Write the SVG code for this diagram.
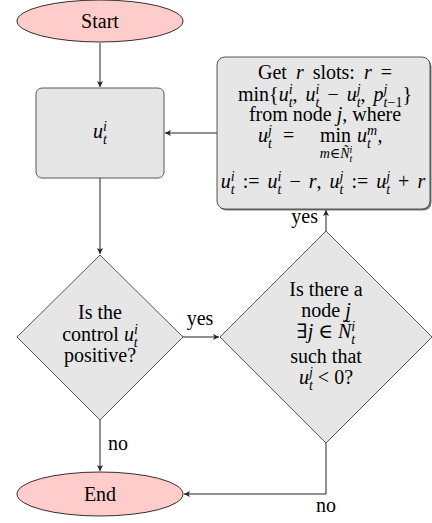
<svg xmlns="http://www.w3.org/2000/svg" width="432" height="523" viewBox="0 0 432 523">
<style>
text{font-family:"Liberation Serif","DejaVu Serif",serif;font-size:20px;fill:#000}
.m{text-anchor:middle}
.i{font-style:italic}
.s{font-size:14px}
.term{fill:#ffcccc;stroke:#000;stroke-width:0.8}
.proc{fill:#e6e6e6;stroke:#444;stroke-width:0.9}
.c{fill:none;stroke:#222;stroke-width:1}
</style>
<defs>
<marker id="ah" markerUnits="userSpaceOnUse" markerWidth="8" markerHeight="8" refX="6" refY="3" orient="auto">
<path d="M0,0 L6,3 L0,6 L1.5,3 z" fill="#222"/>
</marker>
</defs>
<g id="connectors">
<line class="c" x1="100" y1="43" x2="100" y2="87" marker-end="url(#ah)"/>
<line class="c" x1="100" y1="178" x2="100" y2="254" marker-end="url(#ah)"/>
<line class="c" x1="183" y1="337" x2="219" y2="337" marker-end="url(#ah)"/>
<text class="m" x="200" y="325">yes</text>
<line class="c" x1="326" y1="231" x2="326" y2="210" marker-end="url(#ah)"/>
<text x="318" y="223" text-anchor="end">yes</text>
<line class="c" x1="217" y1="133" x2="165" y2="133" marker-end="url(#ah)"/>
<line class="c" x1="100" y1="420" x2="100" y2="471" marker-end="url(#ah)"/>
<text x="108" y="450">no</text>
<polyline class="c" points="326,443 326,494 184,494" marker-end="url(#ah)"/>
<text class="m" x="326" y="512">no</text>
</g>
<g id="start">
<ellipse class="term" cx="100" cy="21" rx="83" ry="21"/>
<text class="m" x="100" y="28">Start</text>
</g>
<g id="end">
<ellipse class="term" cx="100" cy="494" rx="83" ry="22"/>
<text class="m" x="100" y="501">End</text>
</g>
<g id="state">
<rect class="proc" x="36" y="88" width="128" height="90" rx="6"/>
<text class="m" x="100" y="138"><tspan class="i">u</tspan><tspan class="s i" dy="-7">i</tspan><tspan class="s i" dx="-3.9" dy="13">t</tspan></text>
</g>
<g id="check-positive">
<polygon class="proc" points="100,255 183,337 100,420 17,337"/>
<text class="m" x="100" y="319">Is the</text>
<text class="m" x="100" y="341">control <tspan class="i">u</tspan><tspan class="s i" dy="-7">i</tspan><tspan class="s i" dx="-3.9" dy="13">t</tspan></text>
<text class="m" x="100" y="362">positive?</text>
</g>
<g id="check-neighbor">
<polygon class="proc" points="326,231 432,337 326,443 220,337"/>
<text class="m" x="326" y="296">Is there a</text>
<text class="m" x="326" y="317">node <tspan class="i">j</tspan></text>
<text class="m" x="326" y="338">∃<tspan class="i">j</tspan> ∈ <tspan class="i">Ñ</tspan><tspan class="s i" dy="-7">i</tspan><tspan class="s i" dx="-3.9" dy="13">t</tspan></text>
<text class="m" x="326" y="363">such that</text>
<text class="m" x="326" y="384"><tspan class="i">u</tspan><tspan class="s i" dy="-7">j</tspan><tspan class="s i" dx="-3.9" dy="13">t</tspan><tspan dy="-6"> &lt; 0?</tspan></text>
</g>
<g id="transfer">
<rect x="218.5" y="58.5" width="213" height="152" rx="8" fill="#777"/>
<rect class="proc" x="217" y="57" width="213" height="152" rx="8"/>
<text class="m" x="325" y="79" style="word-spacing:4px">Get <tspan class="i">r</tspan> slots: <tspan class="i">r</tspan> =</text>
<text class="m" x="325" y="101" style="word-spacing:3px">min{<tspan class="i">u</tspan><tspan class="s i" dy="-7">i</tspan><tspan class="s i" dx="-3.9" dy="13">t</tspan><tspan dy="-6">, </tspan><tspan class="i">u</tspan><tspan class="s i" dy="-7">i</tspan><tspan class="s i" dx="-3.9" dy="13">t</tspan><tspan dy="-6"> − </tspan><tspan class="i">u</tspan><tspan class="s i" dy="-7">j</tspan><tspan class="s i" dx="-3.9" dy="13">t</tspan><tspan dy="-6">, </tspan><tspan class="i">p</tspan><tspan class="s i" dy="-7">j</tspan><tspan class="s" dx="-3.9" dy="13"><tspan class="i">t</tspan>−1</tspan><tspan dy="-6">}</tspan></text>
<text class="m" x="325" y="121">from node <tspan class="i">j</tspan>, where</text>
<text x="258" y="142"><tspan class="i">u</tspan><tspan class="s i" dy="-7">j</tspan><tspan class="s i" dx="-3.9" dy="13">t</tspan></text>
<text x="283" y="142">=</text>
<text x="320" y="142">min</text>
<text x="357" y="142"><tspan class="i">u</tspan><tspan class="s i" dy="-7">m</tspan><tspan class="s i" dx="-10.1" dy="13">t</tspan><tspan dx="6.5" dy="-6">,</tspan></text>
<text class="s m" x="336" y="158"><tspan class="i">m</tspan>∈<tspan class="i">Ñ</tspan><tspan style="font-size:10px" class="i" dy="-5">i</tspan><tspan style="font-size:10px" class="i" dx="-2.8" dy="9">t</tspan></text>
<text class="m" x="323" y="188" style="word-spacing:3px"><tspan class="i">u</tspan><tspan class="s i" dy="-7">i</tspan><tspan class="s i" dx="-3.9" dy="13">t</tspan><tspan dy="-6"> := </tspan><tspan class="i">u</tspan><tspan class="s i" dy="-7">i</tspan><tspan class="s i" dx="-3.9" dy="13">t</tspan><tspan dy="-6"> − </tspan><tspan class="i">r</tspan>, <tspan class="i">u</tspan><tspan class="s i" dy="-7">j</tspan><tspan class="s i" dx="-3.9" dy="13">t</tspan><tspan dy="-6"> := </tspan><tspan class="i">u</tspan><tspan class="s i" dy="-7">j</tspan><tspan class="s i" dx="-3.9" dy="13">t</tspan><tspan dy="-6"> + </tspan><tspan class="i">r</tspan></text>
</g>
</svg>
